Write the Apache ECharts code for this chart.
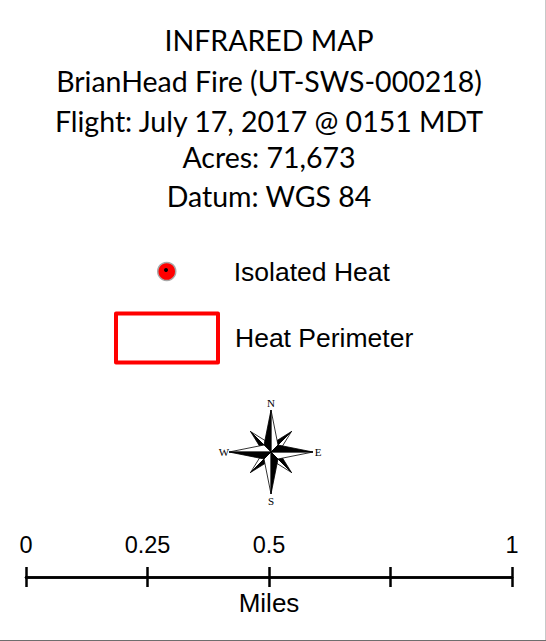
<!DOCTYPE html>
<html><head><meta charset="utf-8">
<script src="https://cdn.jsdelivr.net/npm/echarts@6/dist/echarts.min.js"></script>
<style>html,body{margin:0;padding:0;background:#fff}#c{width:546px;height:641px}</style>
</head><body><div id="c"></div>
<script>
// ---- data ----
const titleLines = ['INFRARED MAP', 'BrianHead Fire (UT-SWS-000218)', 'Flight: July 17, 2017 @ 0151 MDT', 'Acres: 71,673', 'Datum: WGS 84'];
const legendItems = ['Isolated Heat', 'Heat Perimeter'];
const scaleTicks = [0, 0.25, 0.5, 0.75, 1];
const scaleLabels = ['0', '0.25', '0.5', '', '1'];
const scaleUnit = 'Miles';
const compassLetters = ['N', 'E', 'S', 'W'];

// ---- layout ----
const titleTops = [25, 66, 106, 142, 181];
const compass = { cx: 271, cy: 452, mainLen: 42, mainW: 7, diagLen: 29, diagW: 5.5, labelR: 50 };

const chart = echarts.init(document.getElementById('c'), null, { renderer: 'svg' });

function armPolys(angleDeg, L, w) {
  const a = angleDeg * Math.PI / 180;
  const ux = Math.sin(a), uy = -Math.cos(a);      // direction (0deg = north)
  const px = uy, py = -ux;                          // counter-clockwise perpendicular
  const c = [compass.cx, compass.cy];
  const tip = [c[0] + L * ux, c[1] + L * uy];
  const sb = [c[0] + w * ux + w * px, c[1] + w * uy + w * py];
  const sw = [c[0] + w * ux - w * px, c[1] + w * uy - w * py];
  return [
    { type: 'polygon', shape: { points: [c, tip, sw] }, style: { fill: '#fff', stroke: '#000', lineWidth: 0.8 } },
    { type: 'polygon', shape: { points: [c, tip, sb] }, style: { fill: '#000', stroke: '#000', lineWidth: 0.8 } }
  ];
}
const compassEls = [];
[45, 135, 225, 315].forEach(a => compassEls.push(...armPolys(a, compass.diagLen, compass.diagW)));
[0, 90, 180, 270].forEach(a => compassEls.push(...armPolys(a, compass.mainLen, compass.mainW)));
compassLetters.forEach((t, i) => {
  const a = i * 90 * Math.PI / 180;
  const r = (i % 2 === 0) ? compass.labelR - 1 : compass.labelR - 3;
  compassEls.push({
    type: 'text',
    style: { text: t, x: compass.cx + r * Math.sin(a), y: compass.cy - r * Math.cos(a), align: 'center', verticalAlign: 'middle',
      font: '11px "Liberation Serif"', fill: '#000' }
  });
});

const labelFor = v => { const i = scaleTicks.indexOf(v); return i >= 0 ? scaleLabels[i] : ''; };
const axisFont = { fontFamily: 'Liberation Sans', color: '#000' };

chart.setOption({
  animation: false,
  backgroundColor: '#fff',
  title: titleLines.map((t, i) => ({
    text: t, left: 269, top: titleTops[i], textAlign: 'center', padding: 0,
    textStyle: { fontFamily: 'Lato', fontSize: 28.5, fontWeight: 'normal', color: '#000', lineHeight: 30 }
  })),
  legend: [
    {
      data: [legendItems[0]], left: 157, top: 258, icon: 'circle', itemWidth: 18, itemHeight: 18, padding: 0,
      itemStyle: { color: '#ff0000', borderColor: '#a8a8a8', borderWidth: 1.5, opacity: 1 },
      textStyle: { fontFamily: 'Liberation Sans', fontSize: 26.5, color: '#000', lineHeight: 18, padding: [0, 0, 0, 53] },
      selectedMode: false
    },
    {
      data: [legendItems[1]], left: 114, top: 311.5, icon: 'rect', itemWidth: 102, itemHeight: 49, padding: 0,
      itemStyle: { color: 'rgba(0,0,0,0)', borderColor: '#ff0000', borderWidth: 4, borderJoin: 'round', opacity: 1 },
      textStyle: { fontFamily: 'Liberation Sans', fontSize: 26.5, color: '#000', lineHeight: 22, padding: [12, 0, 0, 12] },
      selectedMode: false
    }
  ],
  grid: { left: 26, width: 486, top: 577, height: 0, containLabel: false },
  xAxis: [
    {
      type: 'value', min: 0, max: 1, interval: 0.25, position: 'top',
      axisLine: { show: true, lineStyle: { color: '#000', width: 2.5 } },
      axisTick: { show: true, length: 10, lineStyle: { color: '#000', width: 2.5 } },
      axisLabel: { margin: 20, fontSize: 23.5, formatter: labelFor, ...axisFont },
      splitLine: { show: false }
    },
    {
      type: 'value', min: 0, max: 1, interval: 0.25, position: 'bottom',
      axisLine: { show: true, lineStyle: { color: '#000', width: 2.5 } },
      axisTick: { show: true, length: 10, lineStyle: { color: '#000', width: 2.5 } },
      axisLabel: { show: false }, splitLine: { show: false },
      name: scaleUnit, nameLocation: 'middle', nameGap: 13,
      nameTextStyle: { fontSize: 26, ...axisFont }
    }
  ],
  yAxis: { type: 'value', show: false },
  series: [
    { name: legendItems[0], type: 'scatter', data: [], itemStyle: { color: '#ff0000', opacity: 1 } },
    { name: legendItems[1], type: 'scatter', data: [], itemStyle: { color: 'rgba(0,0,0,0)', borderColor: '#ff0000', opacity: 1 } }
  ],
  graphic: [
    { type: 'circle', shape: { cx: 166, cy: 270, r: 2 }, style: { fill: '#000' }, z: 100 },
    ...compassEls,
    { type: 'line', shape: { x1: 545.5, y1: 0, x2: 545.5, y2: 641 }, style: { stroke: '#c8c8c8', lineWidth: 1 } },
    { type: 'line', shape: { x1: 0, y1: 640.5, x2: 546, y2: 640.5 }, style: { stroke: '#6e6e6e', lineWidth: 1 } }
  ]
});
</script>
</body></html>
